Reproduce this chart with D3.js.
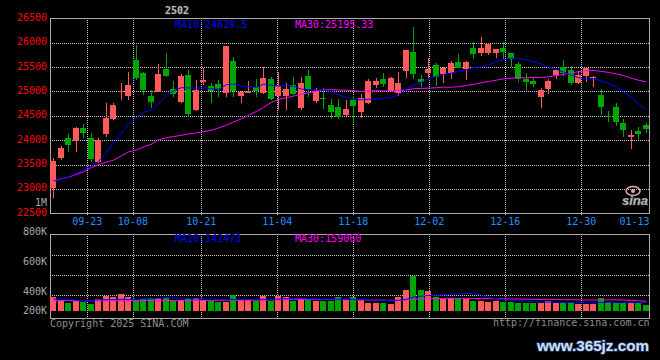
<!DOCTYPE html>
<html><head><meta charset="utf-8">
<script src="https://cdn.jsdelivr.net/npm/d3@7"></script>
<style>html,body{margin:0;padding:0;background:#000;overflow:hidden}svg{display:block}</style>
</head><body>
<svg id="chart" width="660" height="360"></svg>
<script>
const contract = "2502";
const dates = ["09-12","09-13","09-18","09-19","09-20",
 "09-23","09-24","09-25","09-26","09-27","09-30",
 "10-08","10-09","10-10","10-11","10-14","10-15","10-16","10-17","10-18",
 "10-21","10-22","10-23","10-24","10-25","10-28","10-29","10-30","10-31","11-01",
 "11-04","11-05","11-06","11-07","11-08","11-11","11-12","11-13","11-14","11-15",
 "11-18","11-19","11-20","11-21","11-22","11-25","11-26","11-27","11-28","11-29",
 "12-02","12-03","12-04","12-05","12-06","12-09","12-10","12-11","12-12","12-13",
 "12-16","12-17","12-18","12-19","12-20","12-23","12-24","12-25","12-26","12-27",
 "12-30","12-31","01-02","01-03","01-06","01-07","01-08","01-09","01-10","01-13"];
const open  = [23012,23641,24051,23990,24256,24044,23559,24120,24434,24981,
 24906,25645,25385,24906,24995,25453,25050,24790,25337,24619,
 25200,25111,25152,24974,25624,24906,24974,25097,24961,25248,
 24906,24906,25132,24667,25316,24810,24872,24721,24674,24516,
 24824,24585,24769,25132,25248,25015,24974,25419,25815,25255,
 25371,25542,25357,25371,25610,25453,25891,25795,25788,25795,
 25884,25781,25562,25262,25214,24879,25043,25337,25494,25439,
 25166,25316,25275,24927,24503,24674,24352,24058,24188,24311];
const high  = [23641,23887,24126,24270,24332,24140,24038,24769,24755,25180,
 25405,25952,25400,25029,25562,25795,25214,25357,25439,25234,
 25487,25166,25234,25932,25713,25000,25214,25248,25494,25289,
 25405,25166,25303,25303,25439,25063,25063,24844,24838,24824,
 24906,24947,25248,25282,25371,25290,25405,25860,26328,25337,
 25692,25590,25495,25624,25768,25620,26021,26123,26000,25875,
 26021,25790,25610,25371,25289,25063,25248,25445,25645,25521,
 25426,25495,25316,25050,24605,24756,24434,24209,24263,24359];
const low   = [22807,23593,23764,23750,24038,23559,23540,24072,24420,24824,
 24824,25234,24927,24653,24980,25300,24892,24770,24482,24600,
 25132,24756,24879,24879,24892,24769,24961,24892,24947,24824,
 24619,24619,24930,24619,24879,24756,24632,24434,24434,24500,
 24325,24461,24750,25063,25097,25000,24906,25268,25248,25097,
 25282,25118,25166,25255,25480,25234,25665,25727,25747,25679,
 25658,25494,25200,25029,25097,24653,24947,25248,25316,25132,
 25145,25200,25097,24516,24380,24291,24072,23812,24024,24140];
const close = [23573,23846,23901,24256,24154,23613,24003,24462,24721,25009,
 25132,25282,25029,24790,25357,25316,24947,25316,24537,25029,
 25234,25009,25043,25932,25009,24995,25015,25009,25282,24844,
 25111,25043,24947,25180,25043,25009,24844,24585,24468,24639,
 24701,24865,25214,25214,25152,25282,25180,25850,25357,25186,
 25460,25289,25487,25576,25487,25610,25768,25891,25973,25870,
 25815,25672,25248,25186,25152,25029,25221,25439,25385,25180,
 25337,25487,25303,24674,24489,24380,24209,24106,24133,24236];
const ma10 = [23160,23197,23250,23320,23388,23470,23559,23743,23948,24150,
 24330,24465,24568,24625,24748,24908,25010,25078,25071,25070,
 25075,25053,25045,25140,25150,25108,25098,25083,25150,25128,
 25111,25120,25105,25047,25038,25032,25023,24998,24927,24880,
 24846,24826,24840,24845,24853,24878,24929,25043,25128,25190,
 25262,25310,25348,25377,25407,25444,25490,25503,25547,25608,
 25650,25687,25678,25645,25611,25561,25497,25450,25397,25332,
 25284,25257,25260,25214,25165,25092,24995,24870,24740,24629.5];
const ma30 = [23160,23210,23240,23300,23350,23440,23500,23550,23590,23680,
 23760,23800,23860,23920,24010,24050,24075,24100,24130,24150,
 24175,24205,24250,24310,24370,24440,24510,24590,24670,24780,
 24835,24870,24905,24940,24970,25010,25030,25035,25030,25025,
 25010,25000,25005,25015,25010,25010,25015,25030,25055,25060,
 25068,25076,25088,25085,25098,25120,25148,25178,25203,25232,
 25257,25272,25280,25282,25285,25287,25300,25325,25355,25380,
 25405,25425,25430,25412,25390,25360,25325,25270,25230,25195.33];
const volume = [230000,164000,126000,180000,143000,115000,197000,246000,235000,279000,
 235000,164000,197000,208000,208000,208000,164000,180000,208000,208000,
 180000,164000,153000,153000,262000,197000,197000,164000,246000,164000,
 246000,230000,164000,208000,180000,164000,164000,164000,230000,180000,
 230000,180000,136000,136000,136000,115000,235000,344000,574000,344000,
 328000,235000,197000,218000,208000,197000,164000,164000,153000,164000,
 153000,143000,136000,126000,126000,126000,164000,136000,136000,153000,
 120000,120000,120000,208000,153000,136000,136000,126000,136000,95000];
const volMa10 = [197000,197000,197000,170000,170000,170000,185000,185000,185000,192000,
 192000,192000,199000,202000,208000,218000,214000,208000,205000,198000,
 193000,193000,188000,183000,188000,187000,190000,189000,192000,188000,
 195000,201000,202000,208000,200000,196000,193000,193000,191000,193000,
 191000,186000,184000,176000,172000,167000,174000,192000,227000,243000,
 253000,258000,264000,273000,280000,288000,281000,263000,221000,203000,
 185000,176000,170000,161000,153000,146000,146000,143000,141000,140000,
 137000,134000,133000,141000,144000,145000,142000,141000,141000,142473];
const volMa30 = [170000,170000,169000,169000,168000,168000,168000,168000,168000,169000,
 170000,171000,172000,172000,173000,173000,173000,174000,174000,175000,
 175000,175000,175000,176000,176000,176000,177000,177000,178000,183000,
 183000,185000,187000,187000,189000,190000,189000,186000,186000,183000,
 183000,183000,181000,180000,178000,174000,177000,181000,193000,198000,
 202000,204000,206000,208000,206000,206000,205000,205000,202000,202000,
 200000,197000,196000,193000,191000,190000,190000,189000,186000,185000,
 182000,180000,180000,181000,182000,183000,180000,173000,166000,159060];
const priceTicks = [26500,26000,25500,25000,24500,24000,23500,23000,22500];
const dateTicks = ["09-23","10-08","10-21","11-04","11-18","12-02","12-16","12-30","01-13"];
const volTicks = [1000000,800000,600000,400000,200000];
const volTickLabels = ["1M","800K","600K","400K","200K"];

const W = 660, H = 360;
const L = 50, R = 649.5, T = 18.3, B = 213.3;
const VT = 234.3, VB = 318.3, VBASE = 311;
const RED = "#ff5a5a", GREEN = "#00a600", FRAME = "#aaaaaa", GRID = "#c8c8c8";
const MONO = "'DejaVu Sans Mono', monospace";

const svg = d3.select("#chart");
svg.append("rect").attr("width", W).attr("height", H).attr("fill", "#000");

const n = dates.length;
const xBand = d3.scaleBand().domain(dates).range([L, L + 7.5 * (n - 0.2)]).paddingInner(0.2).paddingOuter(0);
const xGrid = d3.scaleLinear().domain([0, n - 1]).range([49.3, 649.7]);
const yP = d3.scaleLinear().domain([22500, 26500]).range([B, T]);
const yV = d3.scaleLinear().domain([0, 1000000]).range([VBASE, VBASE - 61]);
const yVLab = d3.scaleLinear().domain([0, 1000000]).range([350.5, 202]);
const cx = i => Math.round(xBand(dates[i]));
const crisp = v => Math.round(v) + 0.5;

// grids
const gGrid = svg.append("g").attr("stroke", GRID).attr("stroke-dasharray", "1,1").attr("shape-rendering", "crispEdges");
priceTicks.slice(1, -1).forEach(p => {
  gGrid.append("line").attr("x1", L).attr("x2", R).attr("y1", crisp(yP(p))).attr("y2", crisp(yP(p)));
});
[1, 2, 3].forEach(k => {
  const y = crisp(VT + 20.3 * k);
  gGrid.append("line").attr("x1", L).attr("x2", R).attr("y1", y).attr("y2", y);
});
dateTicks.forEach(d => {
  const gx = xGrid(dates.indexOf(d));
  if (gx >= R - 1) return;
  gGrid.append("line").attr("x1", crisp(gx)).attr("x2", crisp(gx)).attr("y1", T).attr("y2", B + 3);
  gGrid.append("line").attr("x1", crisp(gx)).attr("x2", crisp(gx)).attr("y1", VT).attr("y2", VB + 2);
});

// frames
svg.append("rect").attr("x", 50.5).attr("y", 18.5).attr("width", R - 50.5).attr("height", 195)
  .attr("fill", "none").attr("stroke", FRAME).attr("shape-rendering", "crispEdges");
svg.append("rect").attr("x", 50.5).attr("y", 234.5).attr("width", R - 50.5).attr("height", 84)
  .attr("fill", "none").attr("stroke", FRAME).attr("shape-rendering", "crispEdges");

// candles + volume bars
const gC = svg.append("g").attr("shape-rendering", "crispEdges");
dates.forEach((d, i) => {
  const up = close[i] >= open[i];
  const col = up ? RED : GREEN;
  const x = cx(i);
  const yh = Math.round(yP(high[i])), yl = Math.round(yP(low[i]));
  gC.append("rect").attr("x", x + 3).attr("y", yh).attr("width", 1).attr("height", Math.max(1, yl - yh)).attr("fill", col);
  const yt = Math.round(yP(Math.max(open[i], close[i]))), yb = Math.round(yP(Math.min(open[i], close[i])));
  gC.append("rect").attr("x", x).attr("y", yt).attr("width", xBand.bandwidth()).attr("height", Math.max(1, yb - yt)).attr("fill", col);
  const vt = Math.round(yV(volume[i]));
  gC.append("rect").attr("x", x).attr("y", vt).attr("width", xBand.bandwidth()).attr("height", VBASE - vt).attr("fill", col);
});

// MA lines
const lineP = d3.line().x((v, i) => cx(i) + 3.5).y(v => yP(v));
const lineV = d3.line().x((v, i) => cx(i) + 3.5).y(v => yV(v));
svg.append("path").attr("d", lineP(ma30)).attr("fill", "none").attr("stroke", "#ff00ff").attr("stroke-width", 1);
svg.append("path").attr("d", lineP(ma10)).attr("fill", "none").attr("stroke", "#0000ff").attr("stroke-width", 1);
svg.append("path").attr("d", lineV(volMa30)).attr("fill", "none").attr("stroke", "#ff00ff").attr("stroke-width", 1);
svg.append("path").attr("d", lineV(volMa10)).attr("fill", "none").attr("stroke", "#0000ff").attr("stroke-width", 1);

// texts
const txt = (x, y, s, fill, anchor) => svg.append("text").attr("x", x).attr("y", y).text(s)
  .attr("fill", fill).attr("font-family", MONO).attr("font-size", 10).attr("text-anchor", anchor || "start");

priceTicks.forEach(p => txt(47, yP(p) - 1, p, "#ff0000", "end").attr("dominant-baseline", "central"));
volTicks.forEach((v, k) => txt(47, Math.min(310.5, yVLab(v)), volTickLabels[k], "#a8a8a8", "end").attr("dominant-baseline", "central"));
dateTicks.forEach(d => {
  const gx = xGrid(dates.indexOf(d));
  if (gx + 15 > R) txt(R, 225, d, "#1e90ff", "end");
  else txt(gx, 225, d, "#1e90ff", "middle");
});

txt(177, 13.5, contract, "#d8d8d8", "middle").attr("font-weight", "bold").attr("stroke", "#666").attr("stroke-width", 0.4);
txt(175, 27.5, "MA10:" + ma10[n - 1], "#0000ff");
txt(295, 27.5, "MA30:" + ma30[n - 1], "#ff00ff");
txt(175, 242, "MA10:" + volMa10[n - 1], "#0000ff");
txt(295, 242, "MA30:" + volMa30[n - 1], "#ff00ff");
txt(50, 326.5, "Copyright 2025 SINA.COM", "#8c8c8c");
txt(649.5, 326, "http://finance.sina.com.cn", "#8c8c8c", "end");

// sina logo
svg.append("ellipse").attr("cx", 633).attr("cy", 191).attr("rx", 7).attr("ry", 4.5)
  .attr("fill", "none").attr("stroke", "#f0a8a8").attr("stroke-width", 1.5);
svg.append("circle").attr("cx", 633).attr("cy", 191).attr("r", 2).attr("fill", "#bbb");
svg.append("text").attr("x", 635).attr("y", 205).text("sina").attr("text-anchor", "middle")
  .attr("font-family", "'Liberation Sans', Arial, sans-serif").attr("font-weight", "bold").attr("font-style", "italic")
  .attr("font-size", 13).attr("fill", "#d0d0d0").attr("stroke", "#777").attr("stroke-width", 0.5);

// watermark
svg.append("text").attr("x", 537).attr("y", 351).text("www.365jz.com")
  .attr("font-family", "'Liberation Sans', Arial, sans-serif").attr("font-weight", "bold")
  .attr("font-size", 15).attr("textLength", 112).attr("lengthAdjust", "spacingAndGlyphs")
  .attr("fill", "#cfdff2").attr("stroke", "#1d3c70").attr("stroke-width", 1.5).attr("paint-order", "stroke");
</script>
</body></html>
